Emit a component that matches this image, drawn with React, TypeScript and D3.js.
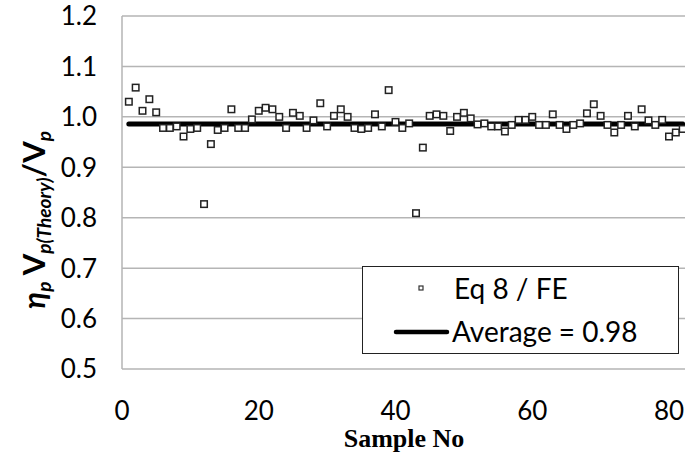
import { useEffect, useRef } from 'react'
import * as d3 from 'd3'

// ratio eta_p * Vp(theory) / Vp for each sample (Eq 8 / FE)
const sampleNo = d3.range(1, 83)
const ratios = [
  1.030, 1.058, 1.012, 1.035, 1.009, 0.978, 0.978, 0.981, 0.961, 0.976,
  0.978, 0.827, 0.946, 0.974, 0.978, 1.015, 0.978, 0.978, 0.995, 1.012,
  1.018, 1.015, 1.000, 0.978, 1.008, 1.002, 0.978, 0.993, 1.027, 0.981,
  1.002, 1.015, 1.000, 0.978, 0.976, 0.978, 1.005, 0.981, 1.053, 0.990,
  0.978, 0.987, 0.809, 0.939, 1.002, 1.005, 1.002, 0.972, 1.000, 1.008,
  0.997, 0.985, 0.987, 0.981, 0.981, 0.971, 0.984, 0.994, 0.994, 1.000,
  0.984, 0.984, 1.005, 0.984, 0.976, 0.984, 0.987, 1.007, 1.025, 1.002,
  0.984, 0.969, 0.984, 1.002, 0.981, 1.015, 0.993, 0.984, 0.994, 0.961,
  0.969, 0.976,
]
const average = 0.986
const averageLabel = 'Average = 0.98'
const seriesLabel = 'Eq 8 / FE'
const xTicks = [0, 20, 40, 60, 80]
const yTicks = [0.5, 0.6, 0.7, 0.8, 0.9, 1.0, 1.1, 1.2]

const W = 685
const H = 457

const RatioChart = () => {
  const ref = useRef(null)

  useEffect(() => {
    if (!ref.current) return
    const svg = d3.select(ref.current)
    svg.selectAll('*').remove()

    const x = d3.scaleLinear().domain([0, 82.34]).range([122, 685])
    const y = d3.scaleLinear().domain([0.5, 1.2]).range([369, 16])
    const sans = 'Lato, "Open Sans", sans-serif'

    // gridlines
    svg.append('g')
      .selectAll('line')
      .data(yTicks).enter().append('line')
      .attr('x1', x(0)).attr('x2', W)
      .attr('y1', d => y(d)).attr('y2', d => y(d))
      .attr('stroke', '#b5b5b5')
      .attr('stroke-width', 1.5)

    svg.append('line')
      .attr('x1', x(0)).attr('x2', x(0))
      .attr('y1', y(1.2)).attr('y2', y(0.5))
      .attr('stroke', '#b5b5b5')
      .attr('stroke-width', 1.5)

    // y tick labels
    svg.append('g')
      .selectAll('text')
      .data(yTicks).enter().append('text')
      .text(d => d.toFixed(1))
      .attr('x', 97)
      .attr('y', d => y(d))
      .attr('dy', '0.36em')
      .attr('text-anchor', 'end')
      .style('font-family', sans)
      .style('font-size', '26px')

    // x tick labels
    svg.append('g')
      .selectAll('text')
      .data(xTicks).enter().append('text')
      .text(d => d)
      .attr('x', d => x(d))
      .attr('y', 420)
      .attr('text-anchor', 'middle')
      .style('font-family', sans)
      .style('font-size', '26px')

    // average line
    svg.append('line')
      .attr('x1', x(sampleNo[0])).attr('x2', x(sampleNo[sampleNo.length - 1]))
      .attr('y1', y(average)).attr('y2', y(average))
      .attr('stroke', '#000')
      .attr('stroke-width', 5)
      .attr('stroke-linecap', 'round')

    // sample markers
    const s = 6.5
    svg.append('g')
      .selectAll('rect')
      .data(ratios).enter().append('rect')
      .attr('x', (d, i) => x(sampleNo[i]) - s / 2)
      .attr('y', d => y(d) - s / 2)
      .attr('width', s)
      .attr('height', s)
      .attr('fill', '#fff')
      .attr('stroke', '#222')
      .attr('stroke-width', 1.5)

    // legend
    const lg = svg.append('g')
    lg.append('rect')
      .attr('x', 362.5).attr('y', 266.5)
      .attr('width', 316).attr('height', 87)
      .attr('fill', '#fff')
      .attr('stroke', '#222')
      .attr('stroke-width', 1)
    lg.append('rect')
      .attr('x', 419).attr('y', 286)
      .attr('width', 4).attr('height', 4)
      .attr('fill', '#fff')
      .attr('stroke', '#333')
      .attr('stroke-width', 1.2)
    lg.append('text')
      .text(seriesLabel)
      .attr('x', 454).attr('y', 289)
      .attr('dy', '0.36em')
      .style('font-family', sans)
      .style('font-size', '28px')
    lg.append('line')
      .attr('x1', 396).attr('x2', 447)
      .attr('y1', 332).attr('y2', 332)
      .attr('stroke', '#000')
      .attr('stroke-width', 4.5)
      .attr('stroke-linecap', 'round')
    lg.append('text')
      .text(averageLabel)
      .attr('x', 452).attr('y', 332)
      .attr('dy', '0.36em')
      .style('font-family', sans)
      .style('font-size', '28px')

    // axis titles
    svg.append('text')
      .text('Sample No')
      .attr('x', 404).attr('y', 447)
      .attr('text-anchor', 'middle')
      .style('font-family', '"Liberation Serif", serif')
      .style('font-weight', 'bold')
      .style('font-size', '26px')

    const yt = svg.append('text')
      .attr('transform', 'translate(45,220) rotate(-90)')
      .attr('text-anchor', 'middle')
      .style('font-family', sans)
      .style('font-weight', 'bold')
      .style('font-size', '31px')
    yt.append('tspan').text('η').style('font-style', 'italic')
    yt.append('tspan').text('p').style('font-style', 'italic')
      .style('font-size', '19px').attr('dy', 6)
    yt.append('tspan').text(' V').attr('dy', -6)
    yt.append('tspan').text('p(Theory)').style('font-style', 'italic')
      .style('font-size', '19px').attr('dy', 6)
    yt.append('tspan').text('/V').attr('dy', -6)
    yt.append('tspan').text('p').style('font-style', 'italic')
      .style('font-size', '19px').attr('dy', 6)
  }, [])

  return (
    <svg
      ref={ref}
      width={W}
      height={H}
      style={{ position: 'absolute', left: 0, top: 0, background: '#fff' }}
    />
  )
}

export default function App() {
  return <RatioChart />
}
